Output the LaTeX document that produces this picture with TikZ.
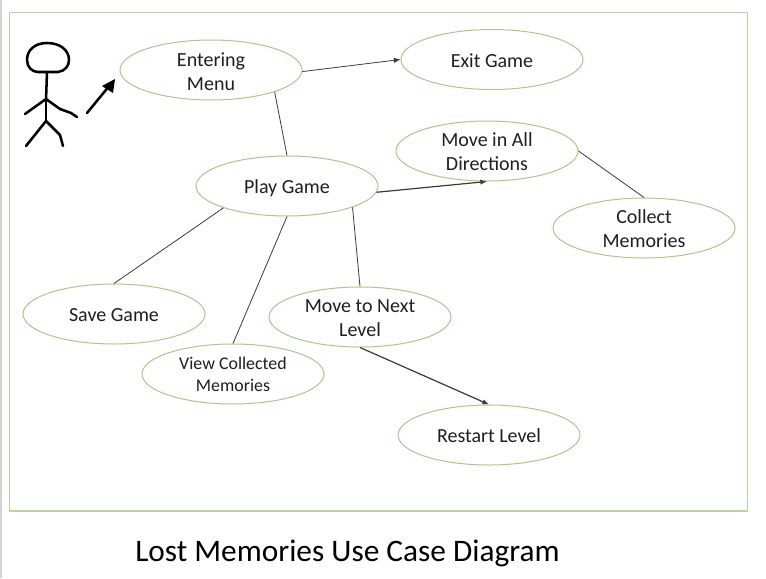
\documentclass[tikz,border=0pt]{standalone}
\usepackage{fontspec}
\setmainfont{Carlito}
\usetikzlibrary{shapes.geometric,arrows.meta}
\definecolor{frameg}{HTML}{B5D6A0}
\definecolor{ucg}{HTML}{A4CB8A}
\definecolor{stripg}{HTML}{D4D4D4}
\definecolor{linek}{HTML}{3A3A3A}
\newcommand{\ucrule}[1]{\rule{0pt}{#1}}
\tikzset{
  usecase/.style={ellipse,draw=ucg,line width=0.75pt,fill=white,minimum width=136.5pt,minimum height=45pt,
    inner xsep=0pt,inner ysep=-16pt,align=center,font=\fontsize{15}{18}\selectfont,text=black!88},
  link/.style={draw=linek,line width=0.6pt},
  arrowlink/.style={link,-{Latex[length=5pt,width=4pt]}},
  heavylink/.style={arrowlink,line width=0.9pt},
  stick/.style={draw=black,line width=1.9pt,line cap=round,line join=round},
}
\begin{document}
\begin{tikzpicture}[x=0.75pt,y=-0.75pt]
\useasboundingbox (0,0) rectangle (766,578);
\fill[white] (0,0) rectangle (766,578);
\fill[stripg] (0,0) rectangle (2,578);
\node[draw=frameg,line width=1pt,minimum width=553.5pt,minimum height=374pt,inner sep=0pt,anchor=north west] (frame) at (8.5,11.5) {};
\node[usecase] (menu) at (211,70) {\ucrule{13.5pt}Entering\\Menu};
\node[usecase] (exit) at (492,59.5) {\ucrule{12pt}Exit Game};
\node[usecase] (move) at (487,151) {\ucrule{11.3pt}Move in All\\Directions};
\node[usecase] (play) at (287,186) {\ucrule{13pt}Play Game};
\node[usecase] (collect) at (644,228) {\ucrule{12pt}Collect\\Memories};
\node[usecase] (save) at (114,314) {\ucrule{12pt}Save Game};
\node[usecase] (next) at (360,317) {\ucrule{12pt}Move to Next\\Level};
\node[usecase,font=\fontsize{13.4}{16.5}\selectfont] (view) at (233,374) {View Collected\\Memories};
\node[usecase] (restart) at (489,435) {\ucrule{12pt}Restart Level};
\draw[arrowlink] (menu.-1) -- (exit.west);
\draw[link] (menu.-19.5) -- (play.north);
\draw[heavylink] (play.-4) -- (move.south);
\draw[link] (move.east) -- (collect.north);
\draw[link] (play.199) -- (save.north);
\draw[link] (play.south) -- (view.north);
\draw[link] (play.-18) -- (next.north);
\draw[heavylink] (next.south) -- (restart.north);
% actor
\draw[stick] (47,43) .. controls (35,43) and (27,50) .. (27,60) .. controls (27,67) and (32,72) .. (38,72) -- (58,72) .. controls (65,71) and (69,66) .. (69,60) .. controls (69,50) and (60,43) .. cycle;
\draw[stick] (47,72) -- (46,100);
\draw[stick] (25,114) -- (46,99) -- (60,109) -- (71,113) -- (77,117);
\draw[stick] (46,100) -- (46,121);
\draw[stick] (26,146) -- (38,131) -- (46,121) -- (60,135) -- (63,146);
\coordinate (arrowfoot) at (87,113);
\coordinate (arrowtip) at (110,85);
\draw[stick] (arrowfoot) -- (arrowtip);
\fill[black] (115,79) -- (102,86) -- (113,93) -- cycle;
\node[font=\fontsize{23.5}{24}\selectfont,anchor=base west,inner sep=0pt] (title) at (135,561) {Lost Memories Use Case Diagram};
\end{tikzpicture}
\end{document}
